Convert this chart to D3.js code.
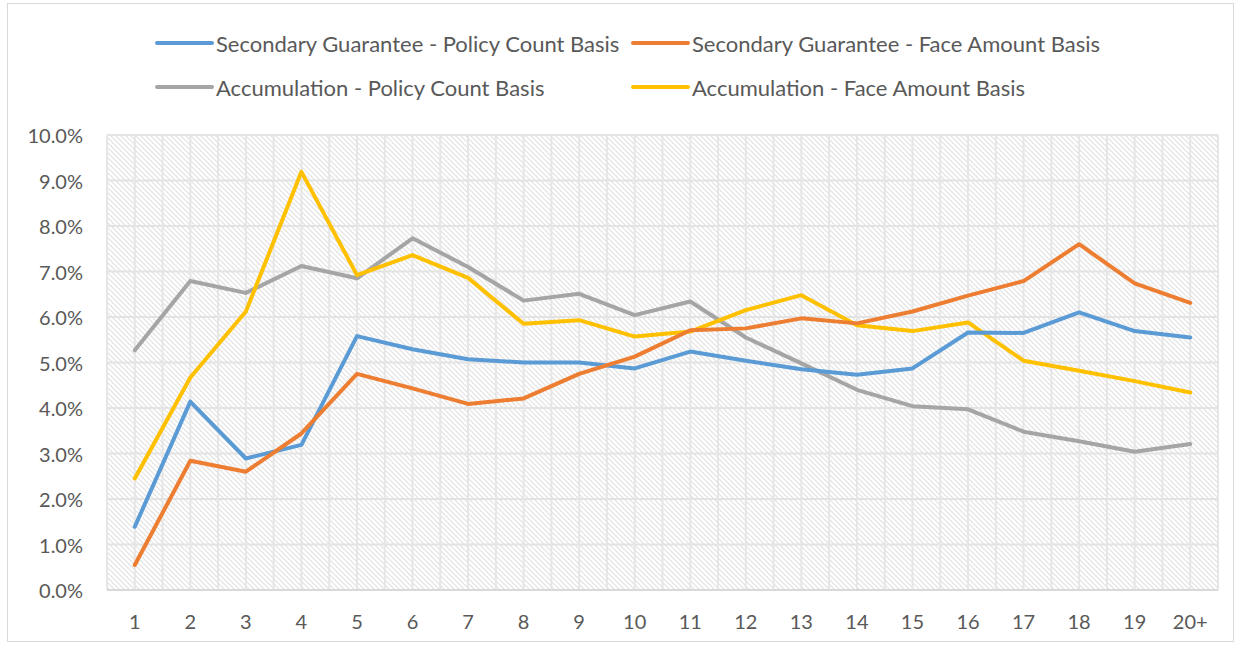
<!DOCTYPE html>
<html>
<head>
<meta charset="utf-8">
<script src="https://cdn.jsdelivr.net/npm/d3@7"></script>
<style>
  body { margin: 0; background: #fff; }
  svg text { font-family: Lato, "Open Sans", sans-serif; fill: #595959; }
</style>
</head>
<body>
<div id="chart"></div>
<script>
// categories (policy duration)
const years = ['1', '2', '3', '4', '5', '6', '7', '8', '9', '10', '11', '12', '13', '14', '15', '16', '17', '18', '19', '20+']

// series values, percent
const sgPolicyCount = [1.39, 4.14, 2.89, 3.19, 5.58, 5.29, 5.07, 5.00, 5.00, 4.87, 5.24, 5.04, 4.85, 4.73, 4.87, 5.66, 5.65, 6.10, 5.69, 5.55]
const sgFaceAmount = [0.55, 2.84, 2.60, 3.44, 4.75, 4.43, 4.09, 4.21, 4.75, 5.13, 5.71, 5.75, 5.97, 5.86, 6.12, 6.47, 6.79, 7.60, 6.74, 6.31]
const accPolicyCount = [5.27, 6.79, 6.53, 7.12, 6.85, 7.73, 7.10, 6.36, 6.51, 6.04, 6.34, 5.55, 4.98, 4.40, 4.04, 3.97, 3.48, 3.27, 3.04, 3.21]
const accFaceAmount = [2.45, 4.67, 6.12, 9.19, 6.92, 7.36, 6.86, 5.85, 5.93, 5.57, 5.68, 6.15, 6.48, 5.82, 5.69, 5.88, 5.04, 4.82, 4.59, 4.34]

const seriesNames = [
  'Secondary Guarantee - Policy Count Basis',
  'Secondary Guarantee - Face Amount Basis',
  'Accumulation - Policy Count Basis',
  'Accumulation - Face Amount Basis'
]
const seriesColors = ['#5B9BD5', '#ED7D31', '#A5A5A5', '#FFC000']
const yTicks = [0, 1, 2, 3, 4, 5, 6, 7, 8, 9, 10]

const width = 1241
const height = 650
const margin = {top: 135, right: 23, bottom: 60, left: 107}

const svg = d3.select('#chart').append('svg')
  .attr('width', width)
  .attr('height', height)

// outer chart border
svg.append('rect')
  .attr('x', 7.5).attr('y', 3.5)
  .attr('width', 1226).attr('height', 638)
  .attr('fill', '#fff')
  .attr('stroke', '#d9d9d9')

// hatch fill for the plot area
const defs = svg.append('defs')
const pat = defs.append('pattern')
  .attr('id', 'hatch')
  .attr('patternUnits', 'userSpaceOnUse')
  .attr('width', 5).attr('height', 5)
pat.append('rect').attr('width', 5).attr('height', 5).attr('fill', '#ffffff')
pat.append('path')
  .attr('d', 'M-1,-1 L6,6 M-1,4 L1,6 M4,-1 L6,1')
  .attr('stroke', '#e2e2e2')
  .attr('stroke-width', 1.2)

const x = d3.scalePoint()
  .domain(years)
  .range([margin.left, width - margin.right])
  .padding(0.5)

const y = d3.scaleLinear()
  .domain([0, 10])
  .range([height - margin.bottom, margin.top])

const step = x.step()

svg.append('rect')
  .attr('x', margin.left)
  .attr('y', margin.top)
  .attr('width', width - margin.left - margin.right)
  .attr('height', height - margin.top - margin.bottom)
  .attr('fill', 'url(#hatch)')

// grid: horizontal per tick, vertical every half category
const grid = svg.append('g')
grid.selectAll('.hgrid').data(yTicks.slice(1)).enter().append('line')
  .attr('class', 'hgrid')
  .attr('x1', margin.left).attr('x2', width - margin.right)
  .attr('y1', d => y(d)).attr('y2', d => y(d))
  .attr('stroke', '#e3e3e3')
  .attr('stroke-width', 2)

let vLines = []
years.forEach(c => { vLines.push(x(c) - step / 2); vLines.push(x(c)) })
vLines.push(width - margin.right)
grid.selectAll('.vgrid').data(vLines).enter().append('line')
  .attr('class', 'vgrid')
  .attr('x1', d => d).attr('x2', d => d)
  .attr('y1', margin.top).attr('y2', height - margin.bottom)
  .attr('stroke', '#e6e6e6')
  .attr('stroke-width', 2)

// x axis line
svg.append('line')
  .attr('x1', margin.left).attr('x2', width - margin.right)
  .attr('y1', y(0)).attr('y2', y(0))
  .attr('stroke', '#d9d9d9')
  .attr('stroke-width', 2)

// axis labels
svg.append('g').selectAll('text').data(yTicks).enter().append('text')
  .attr('x', 83)
  .attr('y', d => y(d))
  .attr('text-anchor', 'end')
  .attr('dominant-baseline', 'central')
  .style('font-size', '20px')
  .text(d => d.toFixed(1) + '%')

svg.append('g').selectAll('text').data(years).enter().append('text')
  .attr('x', d => x(d))
  .attr('y', 621)
  .attr('text-anchor', 'middle')
  .attr('dominant-baseline', 'central')
  .style('font-size', '20px')
  .text(d => d)

// lines
const allSeries = [sgPolicyCount, sgFaceAmount, accPolicyCount, accFaceAmount]
const line = d3.line()
  .x((d, i) => x(years[i]))
  .y(d => y(d))

// draw order: later series on top, like the source
const drawOrder = [2, 3, 0, 1]
svg.append('g').selectAll('path').data(drawOrder).enter().append('path')
  .attr('d', k => line(allSeries[k]))
  .attr('fill', 'none')
  .attr('stroke', k => seriesColors[k])
  .attr('stroke-width', 4)
  .attr('stroke-linejoin', 'round')
  .attr('stroke-linecap', 'round')

// legend, two columns by two rows
const legendPos = [
  {lx: 157, ly: 43}, {lx: 633, ly: 43},
  {lx: 157, ly: 87}, {lx: 633, ly: 87}
]
const legend = svg.append('g').selectAll('g').data(seriesNames).enter().append('g')
  .attr('transform', (d, i) => `translate(${legendPos[i].lx},${legendPos[i].ly})`)
legend.append('line')
  .attr('x1', 0).attr('x2', 55)
  .attr('stroke', (d, i) => seriesColors[i])
  .attr('stroke-width', 4)
  .attr('stroke-linecap', 'round')
legend.append('text')
  .attr('x', 59)
  .attr('dominant-baseline', 'central')
  .style('font-size', '22px')
  .text(d => d)
</script>
</body>
</html>
